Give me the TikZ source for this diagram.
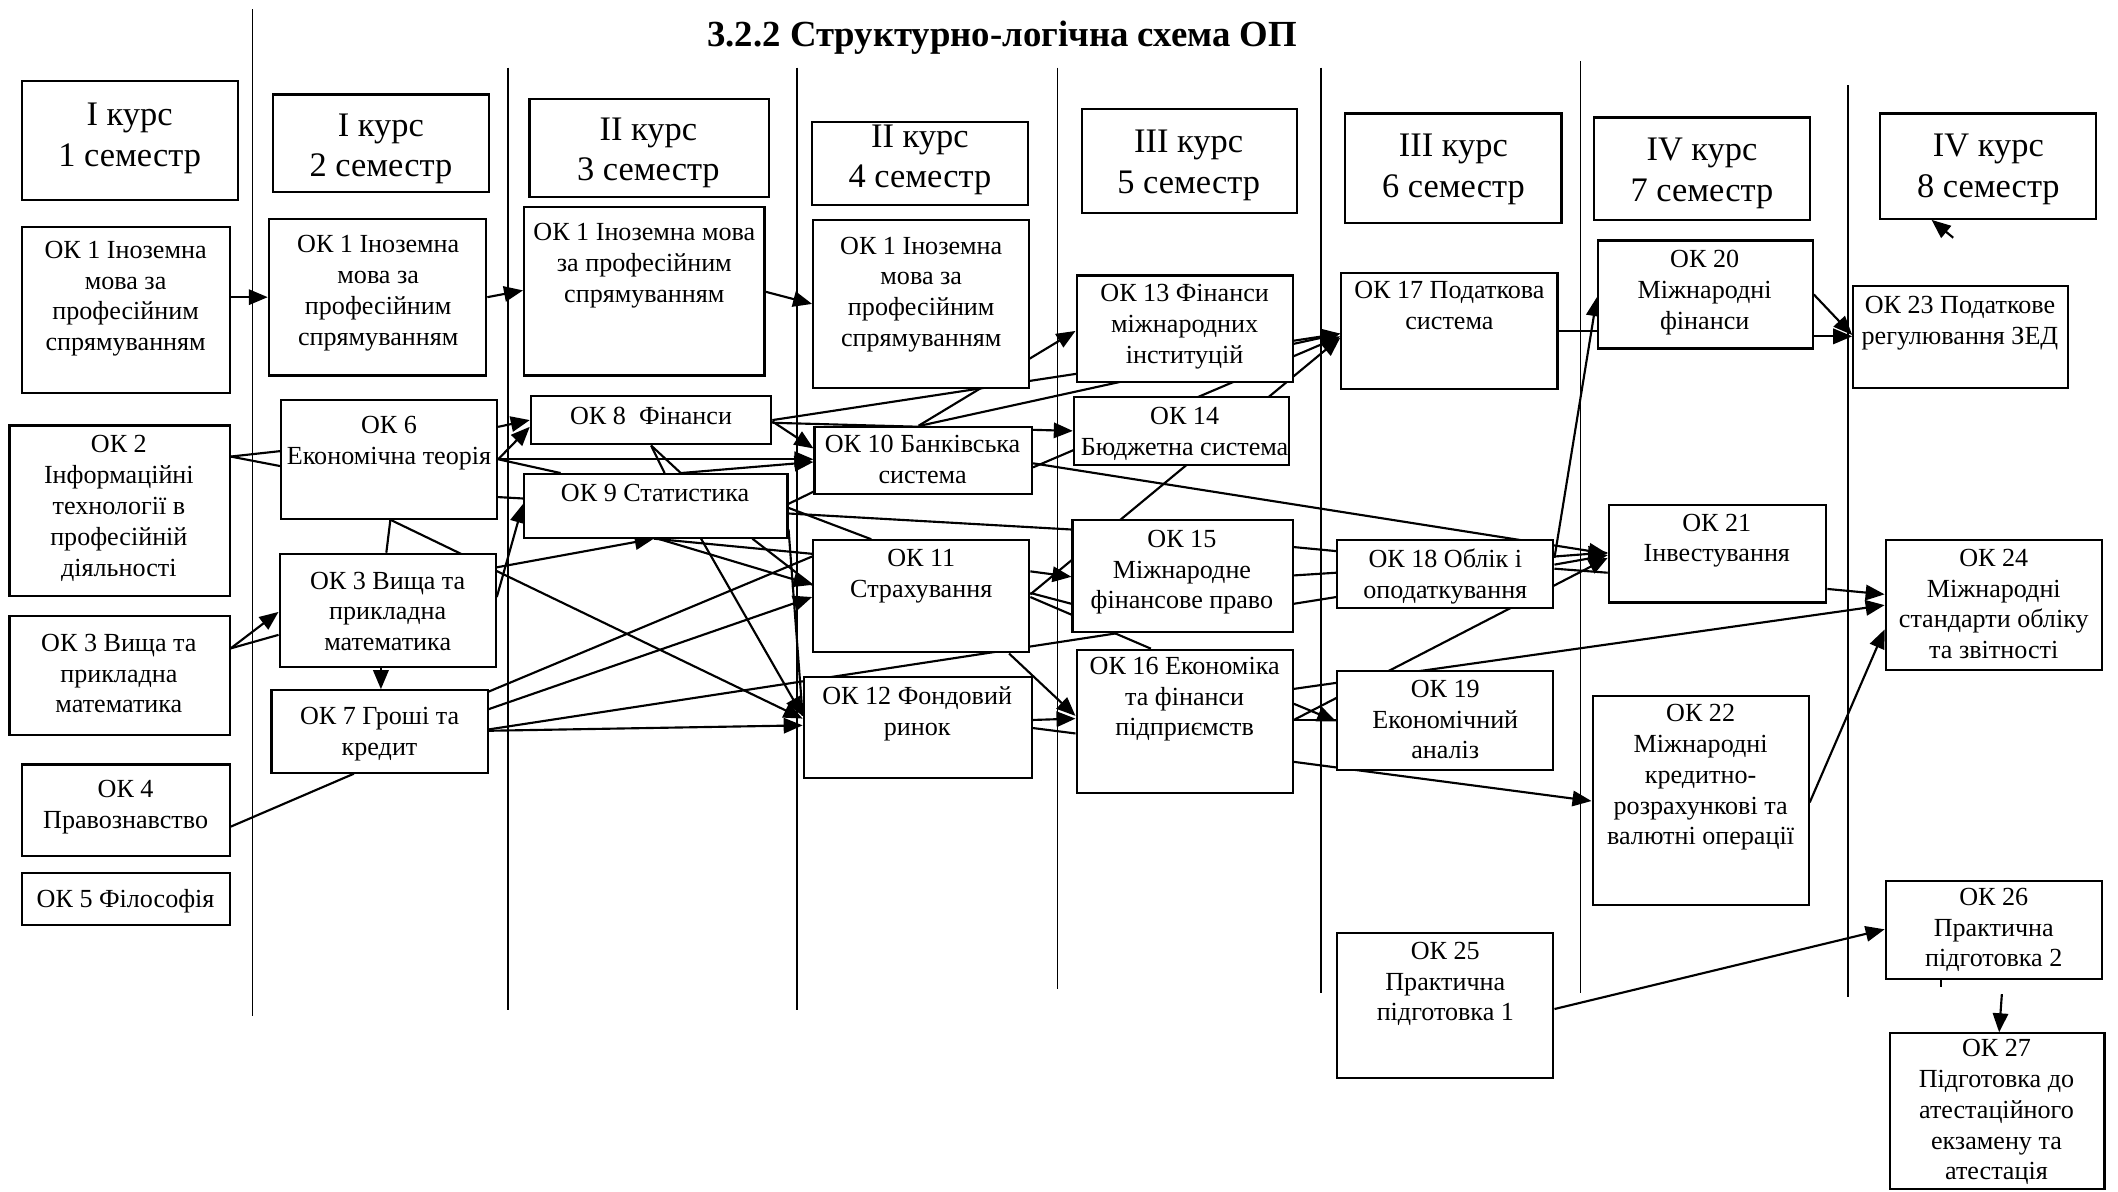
\documentclass[tikz,border=0pt]{standalone}
\usepackage{fontspec}
\setmainfont{Liberation Serif}
\usetikzlibrary{fit,arrows.meta}
\pgfdeclarelayer{bg}
\pgfsetlayers{bg,main}

\begin{document}
\begin{tikzpicture}[x=0.02cm,y=-0.02cm,
    okbox/.style={draw,line width=0.9pt,fill=white,inner sep=0pt},
    oktext/.style={inner sep=0pt,align=center,font=\fontsize{11}{13}\selectfont},
    hdrtext/.style={inner sep=0pt,align=center,font=\fontsize{14.5}{17}\selectfont},
    arr/.style={-{Triangle[length=8pt,width=6.5pt]},line width=0.9pt},
    ln/.style={line width=0.9pt},
    sep/.style={line width=0.7pt}]

        \useasboundingbox (0,0) rectangle (1568,882);

        \node[font=\bfseries\fontsize{15.5}{18}\selectfont] (title) at (742,28) {3.2.2 Структурно-логічна схема ОП};

        % Semester headers
        \node[okbox,fit={(16,60) (176,148)}] (h1) {};
        \node[hdrtext,anchor=north] (h1-t) at (96,76) {I курс\\1 семестр};
        \node[okbox,fit={(202,70) (362,142)}] (h2) {};
        \node[hdrtext,anchor=north] (h2-t) at (282,84) {I курс\\2 семестр};
        \node[okbox,fit={(392,73) (569,146)}] (h3) {};
        \node[hdrtext,anchor=north] (h3-t) at (480,87) {II курс\\3 семестр};
        \node[okbox,fit={(601,90) (761,152)}] (h4) {};
        \node[hdrtext,anchor=north] (h4-t) at (681,92) {II курс\\4 семестр};
        \node[okbox,fit={(801,81) (960,158)}] (h5) {};
        \node[hdrtext,anchor=north] (h5-t) at (880,96) {III курс\\5 семестр};
        \node[okbox,fit={(996,84) (1156,165)}] (h6) {};
        \node[hdrtext,anchor=north] (h6-t) at (1076,99) {III курс\\6 семестр};
        \node[okbox,fit={(1180,87) (1340,163)}] (h7) {};
        \node[hdrtext,anchor=north] (h7-t) at (1260,102) {IV курс\\7 семестр};
        \node[okbox,fit={(1392,84) (1552,162)}] (h8) {};
        \node[hdrtext,anchor=north] (h8-t) at (1472,99) {IV курс\\8 семестр};

        % Semester 1
        \node[okbox,fit={(16,168) (170,291)}] (ok1a) {};
        \node[oktext,anchor=north] (ok1a-t) at (93,178) {ОК 1 Іноземна\\мова за\\професійним\\спрямуванням};
        \node[okbox,fit={(7,315) (170,441)}] (ok2) {};
        \node[oktext,anchor=north] (ok2-t) at (88,322) {ОК 2\\Інформаційні\\технології в\\професійній\\діяльності};
        \node[okbox,fit={(7,456) (170,544)}] (ok3a) {};
        \node[oktext,anchor=north] (ok3a-t) at (88,469) {ОК 3 Вища та\\прикладна\\математика};
        \node[okbox,fit={(16,566) (170,634)}] (ok4) {};
        \node[oktext,anchor=north] (ok4-t) at (93,577) {ОК 4\\Правознавство};
        \node[okbox,fit={(16,646) (170,685)}] (ok5) {};
        \node[oktext,anchor=north] (ok5-t) at (93,658) {ОК 5 Філософія};

        % Semester 2
        \node[okbox,fit={(199,162) (360,278)}] (ok1b) {};
        \node[oktext,anchor=north] (ok1b-t) at (280,174) {ОК 1 Іноземна\\мова за\\професійним\\спрямуванням};
        \node[okbox,fit={(208,296) (368,384)}] (ok6) {};
        \node[oktext,anchor=north] (ok6-t) at (288,308) {ОК 6\\Економічна теорія};
        \node[okbox,fit={(207,410) (367,494)}] (ok3b) {};
        \node[oktext,anchor=north] (ok3b-t) at (287,423) {ОК 3 Вища та\\прикладна\\математика};
        \node[okbox,fit={(201,511) (361,572)}] (ok7) {};
        \node[oktext,anchor=north] (ok7-t) at (281,523) {ОК 7 Гроші та\\кредит};

        % Semester 3
        \node[okbox,fit={(388,153) (566,278)}] (ok1c) {};
        \node[oktext,anchor=north] (ok1c-t) at (477,165) {ОК 1 Іноземна мова\\за професійним\\спрямуванням};
        \node[okbox,fit={(393,293) (571,329)}] (ok8) {};
        \node[oktext,anchor=north] (ok8-t) at (482,301) {ОК 8 \ Фінанси};
        \node[okbox,fit={(388,351) (583,398)}] (ok9) {};
        \node[oktext,anchor=north] (ok9-t) at (485,358) {ОК 9 Статистика};

        % Semester 4
        \node[okbox,fit={(602,163) (762,287)}] (ok1d) {};
        \node[oktext,anchor=north] (ok1d-t) at (682,175) {ОК 1 Іноземна\\мова за\\професійним\\спрямуванням};
        \node[okbox,fit={(603,316) (764,366)}] (ok10) {};
        \node[oktext,anchor=north] (ok10-t) at (683,322) {ОК 10 Банківська\\система};
        \node[okbox,fit={(602,400) (762,483)}] (ok11) {};
        \node[oktext,anchor=north] (ok11-t) at (682,406) {ОК 11\\Страхування};
        \node[okbox,fit={(595,501) (764,576)}] (ok12) {};
        \node[oktext,anchor=north] (ok12-t) at (679,508) {ОК 12 Фондовий\\ринок};

        % Semester 5
        \node[okbox,fit={(797,204) (957,283)}] (ok13) {};
        \node[oktext,anchor=north] (ok13-t) at (877,210) {ОК 13 Фінанси\\міжнародних\\інституцій};
        \node[okbox,fit={(795,294) (954,344)}] (ok14) {};
        \node[oktext,anchor=north] (ok14-t) at (877,301) {ОК 14\\Бюджетна система};
        \node[okbox,fit={(794,385) (957,468)}] (ok15) {};
        \node[oktext,anchor=north] (ok15-t) at (875,392) {ОК 15\\Міжнародне\\фінансове право};
        \node[okbox,fit={(797,481) (957,587)}] (ok16) {};
        \node[oktext,anchor=north] (ok16-t) at (877,486) {ОК 16 Економіка\\та фінанси\\підприємств};

        % Semester 6
        \node[okbox,fit={(993,202) (1153,288)}] (ok17) {};
        \node[oktext,anchor=north] (ok17-t) at (1073,208) {ОК 17 Податкова\\система};
        \node[okbox,fit={(990,400) (1150,450)}] (ok18) {};
        \node[oktext,anchor=north] (ok18-t) at (1070,406) {ОК 18 Облік і\\оподаткування};
        \node[okbox,fit={(990,497) (1150,570)}] (ok19) {};
        \node[oktext,anchor=north] (ok19-t) at (1070,503) {ОК 19\\Економічний\\аналіз};
        \node[okbox,fit={(990,691) (1150,798)}] (ok25) {};
        \node[oktext,anchor=north] (ok25-t) at (1070,697) {ОК 25\\Практична\\підготовка 1};

        % Semester 7
        \node[okbox,fit={(1183,178) (1342,258)}] (ok20) {};
        \node[oktext,anchor=north] (ok20-t) at (1262,185) {ОК 20\\Міжнародні\\фінанси};
        \node[okbox,fit={(1191,374) (1352,446)}] (ok21) {};
        \node[oktext,anchor=north] (ok21-t) at (1271,380) {ОК 21\\Інвестування};
        \node[okbox,fit={(1179,515) (1339,670)}] (ok22) {};
        \node[oktext,anchor=north] (ok22-t) at (1259,521) {ОК 22\\Міжнародні\\кредитно-\\розрахункові та\\валютні операції};

        % Semester 8
        \node[okbox,fit={(1372,212) (1531,287)}] (ok23) {};
        \node[oktext,anchor=north] (ok23-t) at (1451,219) {ОК 23 Податкове\\регулювання ЗЕД};
        \node[okbox,fit={(1396,400) (1556,496)}] (ok24) {};
        \node[oktext,anchor=north] (ok24-t) at (1476,406) {ОК 24\\Міжнародні\\стандарти обліку\\та звітності};
        \node[okbox,fit={(1396,652) (1556,725)}] (ok26) {};
        \node[oktext,anchor=north] (ok26-t) at (1476,657) {ОК 26\\Практична\\підготовка 2};
        \node[okbox,fit={(1399,765) (1558,880)}] (ok27) {};
        \node[oktext,anchor=north] (ok27-t) at (1478,769) {ОК 27\\Підготовка до\\атестаційного\\екзамену та\\атестація};

        \coordinate (h8tip) at (1446,176);
        \coordinate (p26) at (1482,736);

        \begin{pgfonlayer}{bg}
        % Column separators
        \foreach \x/\t/\b in {187/7/752,376/50/748,590/50/748,783/50/732,978/50/735,1170/45/735,1368/63/738}
            \draw[sep] (\x,\t) -- (\x,\b);

        % Semester 1 -> 2
        \draw[arr] (ok1a.east |- 0,220) -- (ok1b.west |- 0,220);
        \draw[ln] (ok2.east |- 0,338) -- (ok6.west |- 0,334);
        \draw[ln] (ok2.east |- 0,338) -- (ok6.west |- 0,345);
        \draw[arr] (ok3a.east |- 0,480) -- (ok3b.west |- 0,453);
        \draw[ln] (ok3a.east |- 0,480) -- (ok3b.west |- 0,470);
        \draw[ln] (ok4.east |- 0,612) -- (ok7.south -| 262,0);
        \draw[ln] (ok6.south -| 289,0) -- (ok3b.north -| 286,0);
        \draw[arr] (ok3b.south -| 282,0) -- (ok7.north -| 282,0);

        % Semester 2 -> 3
        \draw[arr] (ok1b.east |- 0,220) -- (ok1c.west |- 0,215);
        \draw[arr] (ok6.east |- 0,316) -- (ok8.west |- 0,311);
        \draw[arr] (ok6.east |- 0,340) -- (ok8.west |- 0,316);
        \draw[arr] (ok6.east |- 0,340) -- (ok10.west |- 0,340);
        \draw[ln] (ok6.east |- 0,340) -- (ok9.north -| 415,0);
        \draw[ln] (ok6.east |- 0,368) -- (ok15.west |- 0,392);
        \draw[arr] (ok6.south -| 289,0) -- (ok12.west |- 0,532);
        \draw[arr] (ok3b.east |- 0,442) -- (ok9.west |- 0,373);
        \draw[arr] (ok3b.east |- 0,420) -- (ok9.south -| 484,0);
        \draw[ln] (ok7.east |- 0,512) -- (ok11.west |- 0,412);
        \draw[arr] (ok7.east |- 0,525) -- (ok11.west |- 0,442);
        \draw[ln] (ok7.east |- 0,540) -- (ok15.south -| 827,0);
        \draw[arr] (ok7.east |- 0,541) -- (ok12.west |- 0,537);

        % Semester 3 -> 4
        \draw[arr] (ok1c.east |- 0,216) -- (ok1d.west |- 0,225);
        \draw[arr] (ok8.east |- 0,311) -- (ok17.west |- 0,247);
        \draw[arr] (ok8.east |- 0,313) -- (ok14.west |- 0,319);
        \draw[arr] (ok8.east |- 0,312) -- (ok10.west |- 0,332);
        \draw[ln] (ok8.south -| 482,0) -- (ok9.north -| 492,0);
        \draw[ln] (ok8.south -| 482,0) -- (ok9.north -| 504,0);
        \draw[arr] (ok9.north -| 504,0) -- (ok10.west |- 0,342);
        \draw[ln] (ok9.east |- 0,373) -- (ok10.west |- 0,364);
        \draw[ln] (ok9.east |- 0,376) -- (ok11.north -| 645,0);
        \draw[ln] (ok9.south -| 484,0) -- (ok11.west |- 0,410);
        \draw[arr] (ok9.south -| 487,0) -- (ok11.west |- 0,433);
        \draw[ln] (ok9.south -| 557,0) -- (ok11.west |- 0,433);
        \draw[arr] (ok9.south -| 519,0) -- (ok12.west |- 0,530);
        \draw[ln] (ok9.east |- 0,392) -- (ok12.west |- 0,530);

        % Semester 4 -> 5
        \draw[arr] (ok10.north -| 680,0) -- (ok13.west |- 0,245);
        \draw[arr] (ok10.north -| 681,0) -- (ok17.west |- 0,247);
        \draw[arr] (ok10.east |- 0,346) -- (ok17.west |- 0,249);
        \draw[arr] (ok10.east |- 0,343) -- (ok21.west |- 0,410);
        \draw[arr] (ok11.east |- 0,423) -- (ok15.west |- 0,427);
        \draw[ln] (ok11.east |- 0,439) -- (ok15.west |- 0,447);
        \draw[ln] (ok11.east |- 0,442) -- (ok16.north -| 852,0);
        \draw[arr] (ok11.east |- 0,440) -- (ok17.west |- 0,250);
        \draw[arr] (ok11.south -| 747,0) -- (ok16.west |- 0,530);
        \draw[arr] (ok12.east |- 0,533) -- (ok16.west |- 0,532);
        \draw[ln] (ok12.east |- 0,539) -- (ok16.west |- 0,543);

        % Semester 5 -> 6
        \draw[ln] (ok15.east |- 0,405) -- (ok18.west |- 0,408);
        \draw[ln] (ok15.east |- 0,426) -- (ok18.west |- 0,424);
        \draw[ln] (ok15.east |- 0,447) -- (ok18.west |- 0,442);
        \draw[arr] (ok16.east |- 0,510) -- (ok24.west |- 0,448);
        \draw[arr] (ok16.east |- 0,521) -- (ok19.west |- 0,534);
        \draw[ln] (ok16.east |- 0,533) -- (ok19.west |- 0,533);
        \draw[arr] (ok16.east |- 0,533) -- (ok21.west |- 0,413);
        \draw[arr] (ok16.east |- 0,564) -- (ok22.west |- 0,593);

        % Semester 6 -> 7 -> 8
        \draw[ln] (ok17.east |- 0,245) -- (ok20.west |- 0,245);
        \draw[arr] (ok18.east |- 0,413) -- (ok20.west |- 0,220);
        \draw[arr] (ok18.east |- 0,412) -- (ok21.west |- 0,409);
        \draw[arr] (ok18.east |- 0,418) -- (ok21.west |- 0,411);
        \draw[ln] (ok18.east |- 0,421) -- (ok21.west |- 0,424);
        \draw[arr] (ok20.east |- 0,218) -- (ok23.west |- 0,248);
        \draw[arr] (ok20.east |- 0,249) -- (ok23.west |- 0,249);
        \draw[arr] (ok21.east |- 0,436) -- (ok24.west |- 0,440);
        \draw[arr] (ok22.east |- 0,594) -- (ok24.west |- 0,466);
        \draw[arr] (ok25.east |- 0,747) -- (ok26.west |- 0,688);
        \draw[arr] (p26) -- (ok27.north -| 1480,0);
        \draw[ln] (ok26.south -| 1437,0) -- ++(0,5);
        \draw[arr] (h8tip) -- (h8.south -| 1430,0);
        \end{pgfonlayer}

    \end{tikzpicture}
\end{document}
